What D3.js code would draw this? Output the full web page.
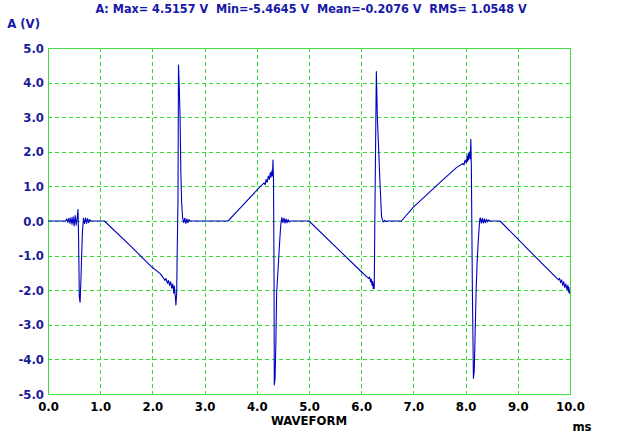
<!DOCTYPE html>
<html>
<head>
<meta charset="utf-8">
<script src="https://cdn.jsdelivr.net/npm/d3@7"></script>
<style>
  body { margin: 0; background: #fff; }
  text { font-family: "DejaVu Sans Condensed", "DejaVu Sans", sans-serif; font-weight: bold; }
</style>
</head>
<body>
<div id="chart"></div>
<script>
// tick labels
const xTicks = [0, 1, 2, 3, 4, 5, 6, 7, 8, 9, 10];
const yTicks = [-5, -4, -3, -2, -1, 0, 1, 2, 3, 4, 5];

const titleText = "A: Max= 4.5157 V  Min=-5.4645 V  Mean=-0.2076 V  RMS= 1.0548 V";

// waveform samples (ms, V)
const timeMs = [
  0.00, 0.34, 0.36, 0.38, 0.40, 0.42, 0.44, 0.46, 0.48, 0.50, 0.52, 0.54, 0.56, 0.575, 0.585, 0.60, 0.615, 0.63, 0.645, 0.66,
  0.68, 0.70, 0.72, 0.74, 0.76, 0.78, 0.80, 0.82, 1.08,
  1.60, 1.99, 2.15, 2.20, 2.24, 2.26, 2.29, 2.31, 2.33, 2.35, 2.37, 2.39, 2.41, 2.42, 2.44, 2.45, 2.465, 2.475, 2.49, 2.50,
  2.515, 2.53, 2.545, 2.56, 2.58, 2.60, 2.62, 2.64, 2.66, 2.68, 2.70, 2.72, 3.45,
  3.68, 4.00, 4.14, 4.16, 4.18, 4.20, 4.22, 4.24, 4.26, 4.27, 4.29, 4.30, 4.31, 4.32, 4.33, 4.335, 4.35, 4.365, 4.38, 4.41,
  4.44, 4.46, 4.48, 4.50, 4.52, 4.54, 4.56, 4.58, 4.60, 4.62, 4.64, 5.00,
  5.60, 6.00, 6.14, 6.16, 6.18, 6.19, 6.21, 6.22, 6.23, 6.24, 6.25, 6.26, 6.29, 6.31, 6.34, 6.36, 6.39, 6.42, 6.45, 6.48,
  6.50, 6.77,
  7.00, 7.32, 7.60, 7.83, 7.95, 7.97, 7.99, 8.01, 8.03, 8.04, 8.05, 8.06, 8.08, 8.09, 8.10, 8.11, 8.13, 8.15, 8.165, 8.18,
  8.20, 8.22, 8.24, 8.27, 8.28, 8.30, 8.32, 8.34, 8.36, 8.38, 8.40, 8.42, 8.44, 8.47, 8.66,
  9.30, 9.78, 9.80, 9.82, 9.84, 9.86, 9.88, 9.90, 9.92, 9.94, 9.96, 9.97, 9.98, 9.99, 10.00
];
const volts = [
  0, 0, 0.06, -0.04, 0.08, -0.07, 0.10, -0.10, 0.12, -0.14, 0.16, -0.12, 0.10, 0.33, -0.40, -2.20, -2.35, -1.75, -0.98, -0.30,
  0.08, -0.08, 0.09, -0.07, 0.07, -0.05, 0.04, 0, 0,
  -0.75, -1.33, -1.52, -1.62, -1.72, -1.66, -1.80, -1.72, -1.86, -1.76, -1.94, -1.82, -2.09, -1.88, -2.20, -2.43, -2.10, -0.90, 0.60, 4.51,
  3.85, 3.00, 1.40, 0.52, 0.08, -0.05, 0.08, -0.07, 0.06, -0.05, 0.04, 0, 0,
  0.37, 0.89, 1.10, 1.05, 1.20, 1.12, 1.30, 1.20, 1.40, 1.26, 1.45, 1.30, 1.76, 1.20, -1.50, -4.74, -4.55, -3.55, -2.08, -1.32,
  -0.55, -0.10, 0.10, -0.05, 0.08, -0.06, 0.06, -0.05, 0.04, -0.03, 0, 0,
  -0.88, -1.46, -1.66, -1.62, -1.76, -1.68, -1.86, -1.74, -1.95, -1.80, -1.96, -0.20, 4.32, 2.97, 1.86, 1.09, 0.12, -0.03, 0.02, -0.02,
  0, 0,
  0.40, 0.85, 1.24, 1.55, 1.66, 1.62, 1.76, 1.68, 1.86, 1.72, 1.95, 1.78, 2.00, 1.80, 2.36, 1.60, -2.00, -4.55, -4.35, -3.44,
  -2.09, -1.22, -0.64, 0.03, 0.09, -0.06, 0.08, -0.06, 0.06, -0.05, 0.05, -0.03, 0.03, 0, 0,
  -0.98, -1.70, -1.66, -1.78, -1.70, -1.86, -1.76, -1.92, -1.82, -1.98, -1.86, -2.05, -1.92, -2.09, -2.05
];

const width = 618, height = 442;
const plotLeft = 48, plotRight = 570, plotTop = 48, plotBottom = 394;

const svg = d3.select("#chart").append("svg")
    .attr("width", width)
    .attr("height", height)
    .style("display", "block");

svg.append("rect").attr("width", width).attr("height", height).attr("fill", "#fff");

const x = d3.scaleLinear().domain([0, 10]).range([plotLeft, plotRight]);
const y = d3.scaleLinear().domain([-5, 5]).range([plotBottom, plotTop]);

const px = v => Math.round(v) + 0.5;
const fmt = d => d.toFixed(1); // plain hyphen minus, like the scope software

// grid
const grid = svg.append("g")
    .attr("stroke", "#33dd33")
    .attr("stroke-width", 1)
    .attr("stroke-dasharray", "4,3")
    .attr("shape-rendering", "crispEdges");

grid.selectAll("line.v")
    .data(xTicks.slice(1, -1))
    .join("line")
    .attr("class", "v")
    .attr("x1", d => px(x(d))).attr("x2", d => px(x(d)))
    .attr("y1", plotTop).attr("y2", plotBottom);

grid.selectAll("line.h")
    .data(yTicks.slice(1, -1))
    .join("line")
    .attr("class", "h")
    .attr("x1", plotLeft).attr("x2", plotRight)
    .attr("y1", d => px(y(d))).attr("y2", d => px(y(d)));

// frame
svg.append("rect")
    .attr("x", px(plotLeft)).attr("y", px(plotTop))
    .attr("width", Math.round(plotRight - plotLeft)).attr("height", Math.round(plotBottom - plotTop))
    .attr("fill", "none")
    .attr("stroke", "#44dd44")
    .attr("shape-rendering", "crispEdges");

// waveform
const points = timeMs.map((t, i) => [t, volts[i]]);
const line = d3.line().x(d => x(d[0])).y(d => y(d[1]));

svg.append("path")
    .datum(points)
    .attr("fill", "none")
    .attr("stroke", "#0000c0")
    .attr("stroke-width", 1.1)
    .attr("stroke-linejoin", "round")
    .attr("d", line);

// axes
const xAxis = svg.append("g")
    .attr("transform", `translate(0,${plotBottom})`)
    .call(d3.axisBottom(x).tickValues(xTicks).tickFormat(fmt).tickSize(0).tickPadding(8));
xAxis.select(".domain").remove();
xAxis.selectAll("text")
    .attr("fill", "#000")
    .style("font-size", "13px")
    .style("font-family", "'DejaVu Sans Condensed', 'DejaVu Sans', sans-serif");

const yAxis = svg.append("g")
    .attr("transform", `translate(${plotLeft},0)`)
    .call(d3.axisLeft(y).tickValues(yTicks).tickFormat(fmt).tickSize(0).tickPadding(4));
yAxis.select(".domain").remove();
yAxis.selectAll("text")
    .attr("fill", "#1a1a9a")
    .style("font-size", "13px")
    .style("font-family", "'DejaVu Sans Condensed', 'DejaVu Sans', sans-serif");

// labels
svg.append("text")
    .attr("x", 311).attr("y", 13)
    .attr("text-anchor", "middle")
    .attr("fill", "#1818a8")
    .style("font-size", "12.5px")
    .style("white-space", "pre")
    .text(titleText);

svg.append("text")
    .attr("x", 40).attr("y", 28)
    .attr("text-anchor", "end")
    .attr("fill", "#1818a8")
    .style("font-size", "13px")
    .text("A (V)");

svg.append("text")
    .attr("x", 309).attr("y", 425)
    .attr("text-anchor", "middle")
    .attr("fill", "#000")
    .style("font-size", "13px")
    .text("WAVEFORM");

svg.append("text")
    .attr("x", 582).attr("y", 431)
    .attr("text-anchor", "middle")
    .attr("fill", "#000")
    .style("font-size", "13px")
    .text("ms");
</script>
</body>
</html>
